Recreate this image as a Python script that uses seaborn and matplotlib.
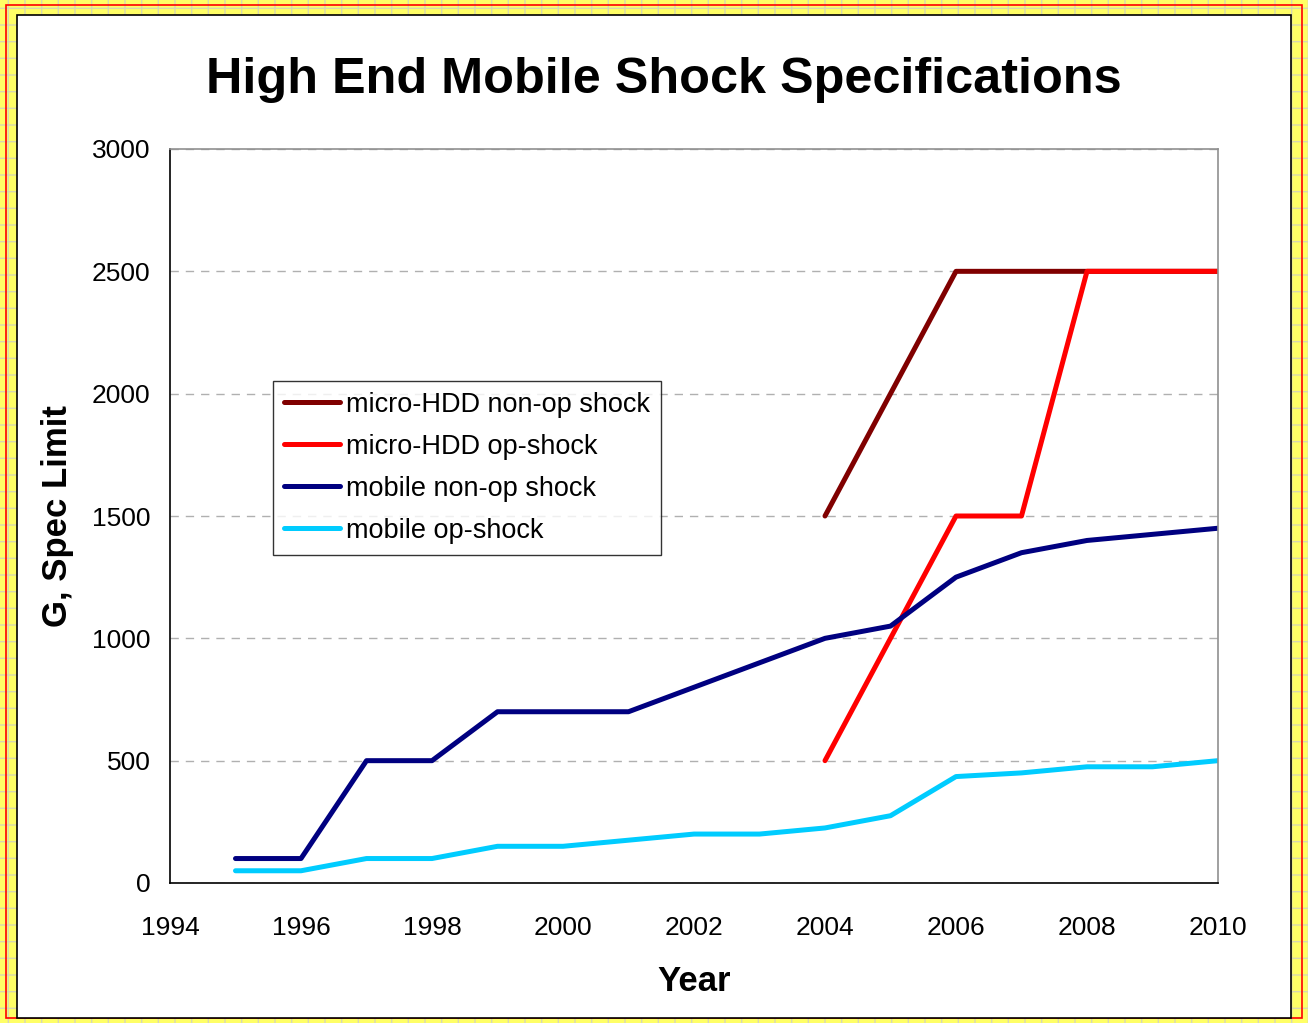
import numpy as np
import pandas as pd
import seaborn as sns
import matplotlib.pyplot as plt
from matplotlib.patches import Rectangle

years = list(range(1995, 2011))
mobile_nonop = [100, 100, 500, 500, 700, 700, 700, 800, 900, 1000, 1050, 1250, 1350, 1400, 1425, 1450]
mobile_op = [50, 50, 100, 100, 150, 150, 175, 200, 200, 225, 275, 435, 450, 475, 475, 500]

micro_years = list(range(2004, 2011))
micro_nonop = [1500, 2000, 2500, 2500, 2500, 2500, 2500]
micro_op = [500, 1000, 1500, 1500, 2500, 2500, 2500]

series_names = ["micro-HDD non-op shock", "micro-HDD op-shock", "mobile non-op shock", "mobile op-shock"]
series_colors = ["#800000", "#FF0000", "#000080", "#00CCFF"]

frames = [
    pd.DataFrame({"Year": micro_years, "G": micro_nonop, "Series": series_names[0]}),
    pd.DataFrame({"Year": micro_years, "G": micro_op, "Series": series_names[1]}),
    pd.DataFrame({"Year": years, "G": mobile_nonop, "Series": series_names[2]}),
    pd.DataFrame({"Year": years, "G": mobile_op, "Series": series_names[3]}),
]
df = pd.concat(frames, ignore_index=True)

sns.set_style("white")
plt.rcParams["font.family"] = ["Liberation Sans", "DejaVu Sans"]
plt.rcParams["text.color"] = "black"
plt.rcParams["axes.labelcolor"] = "black"
plt.rcParams["xtick.color"] = "black"
plt.rcParams["ytick.color"] = "black"

W, H = 1308, 1023
fig = plt.figure(figsize=(W / 100, H / 100), dpi=100)
fig.patch.set_facecolor("#FFFF66")

# brick-ish border background
fig.patches.append(Rectangle((0, 0), 1, 1, transform=fig.transFigure, facecolor="#FFFF66",
                             edgecolor="#D8D8B0", hatch="+", linewidth=0, zorder=0))
fig.patches.append(Rectangle((6 / W, 5 / H), 1 - 12 / W, 1 - 10 / H, transform=fig.transFigure,
                             facecolor="none", edgecolor="red", linewidth=1.2, zorder=1))
fig.patches.append(Rectangle((17 / W, 5 / H), 1 - 34 / W, 1 - 20 / H, transform=fig.transFigure,
                             facecolor="white", edgecolor="black", linewidth=1.2, zorder=2))

ax = fig.add_axes([170 / W, 1 - 883 / H, (1218 - 170) / W, (883 - 149) / H])
ax.set_zorder(5)

palette = dict(zip(series_names, series_colors))
sns.lineplot(data=df, x="Year", y="G", hue="Series", hue_order=series_names,
             palette=palette, linewidth=3.6, ax=ax, legend=True)

ax.set_xlim(1994, 2010)
ax.set_ylim(0, 3000)
ax.set_xticks(range(1994, 2011, 2))
ax.set_yticks(range(0, 3001, 500))
ax.tick_params(axis="both", labelsize=19, direction="out", length=8, width=1.2, color="black")
ax.tick_params(axis="x", pad=16)
ax.tick_params(axis="y", pad=6)
ax.yaxis.grid(True, linestyle=(0, (6, 5)), color="#B0B0B0", linewidth=1)
ax.set_axisbelow(True)

for side in ["left", "bottom"]:
    ax.spines[side].set_color("black")
    ax.spines[side].set_linewidth(1.2)
for side in ["top", "right"]:
    ax.spines[side].set_color("#909090")
    ax.spines[side].set_linewidth(1.2)

ax.set_xlabel("Year", fontsize=25, fontweight="bold", labelpad=18)
ax.set_ylabel("G, Spec Limit", fontsize=25, fontweight="bold", labelpad=13)

fig.text(664 / W, 1 - 80 / H, "High End Mobile Shock Specifications", ha="center", va="center",
         fontsize=36.3, fontweight="bold")

leg = ax.legend(loc="upper left", bbox_to_anchor=(273 / W, 1 - 381 / H), bbox_transform=fig.transFigure,
                borderaxespad=0, fontsize=19.5, frameon=True, fancybox=False, edgecolor="black",
                handlelength=2.07, handletextpad=0.22, labelspacing=0.59, borderpad=0.4)
leg.get_frame().set_linewidth(1.0)
for line in leg.get_lines():
    line.set_linewidth(3.6)

fig.savefig("out.png", dpi=100, facecolor=fig.get_facecolor())
